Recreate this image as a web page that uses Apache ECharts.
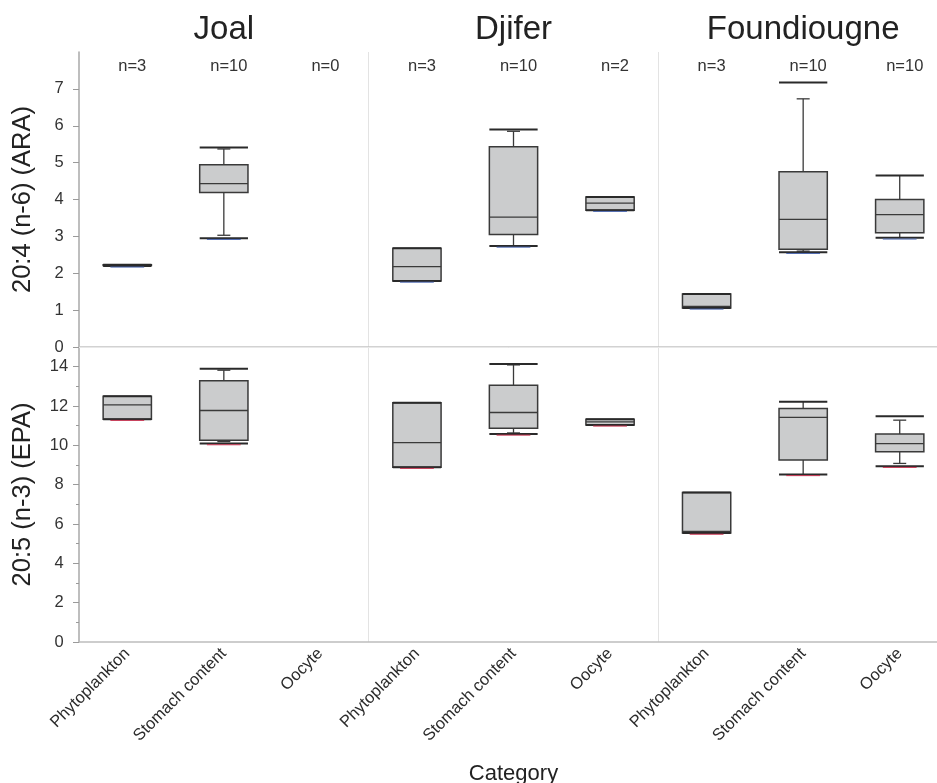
<!DOCTYPE html>
<html>
<head>
<meta charset="utf-8">
<title>ARA and EPA by site and category</title>
<script src="https://cdn.jsdelivr.net/npm/echarts@6/dist/echarts.min.js"></script>
<style>
  html, body { margin: 0; padding: 0; background: #fff; }
  #chart { width: 937px; height: 783px; }
</style>
</head>
<body>
<div id="chart"></div>
<script>
// Sites (panel columns) and sample categories
const sites = ['Joal', 'Djifer', 'Foundiougne'];
const categories = [
  'Phytoplankton', 'Stomach content', 'Oocyte',
  'Phytoplankton', 'Stomach content', 'Oocyte',
  'Phytoplankton', 'Stomach content', 'Oocyte'
];
const counts = [3, 10, 0, 3, 10, 2, 3, 10, 10];

// 20:4 (n-6) ARA summary per category
const araMin         = [2.20, 2.95, null, 1.79, 2.74, 3.71, 1.06, 2.57, 2.96];
const araWhiskerLow  = [2.20, 3.03, null, 1.79, 2.74, 3.71, 1.06, 2.60, 2.96];
const araQ1          = [2.21, 4.19, null, 1.79, 3.05, 3.71, 1.06, 2.65, 3.10];
const araMedian      = [2.22, 4.43, null, 2.18, 3.52, 3.90, 1.10, 3.46, 3.59];
const araQ3          = [2.23, 4.94, null, 2.68, 5.43, 4.07, 1.44, 4.75, 4.00];
const araWhiskerHigh = [2.23, 5.37, null, 2.68, 5.85, 4.07, 1.44, 6.73, 4.65];
const araMax         = [2.23, 5.41, null, 2.68, 5.90, 4.07, 1.44, 7.17, 4.65];

// 20:5 (n-3) EPA summary per category
const epaMin         = [11.33, 10.09, null, 8.89, 10.58, 11.04, 5.54, 8.52, 8.94];
const epaWhiskerLow  = [11.33, 10.19, null, 8.89, 10.63, 11.04, 5.54, 8.52, 9.08];
const epaQ1          = [11.33, 10.26, null, 8.89, 10.87, 11.04, 5.54, 9.25, 9.68];
const epaMedian      = [12.06, 11.77, null, 10.14, 11.67, 11.19, 5.62, 11.42, 10.09];
const epaQ3          = [12.50, 13.29, null, 12.16, 13.05, 11.33, 7.60, 11.87, 10.58];
const epaWhiskerHigh = [12.50, 13.82, null, 12.16, 14.09, 11.33, 7.60, 12.21, 11.28];
const epaMax         = [12.50, 13.90, null, 12.16, 14.14, 11.33, 7.60, 12.21, 11.48];

const FONT = '"Liberation Sans", Arial, Helvetica, sans-serif';
const GRID_LEFT = 79;
const GRID_WIDTH = 869;      // plot area runs slightly past the canvas edge
const TOP1 = 52, H1 = 295, TOP2 = 347, H2 = 295;

function buildRows(mn, wl, q1, med, q3, wh, mx) {
  return categories.map((c, i) => med[i] == null ? null :
    [i, mn[i], wl[i], q1[i], med[i], q3[i], wh[i], mx[i]]).filter(Boolean);
}

function boxRenderer(accent) {
  return function (params, api) {
    const i = api.value(0);
    const v = [1, 2, 3, 4, 5, 6, 7].map(k => api.value(k));
    const [mn, wl, q1, med, q3, wh, mx] = v;
    const y = val => api.coord([i, val])[1];
    const cx = api.coord([i, med])[0];
    const w = api.size([1, 0])[0] * 0.5;
    const x0 = cx - w / 2, x1 = cx + w / 2;
    const cap = 6.5;
    const stroke = '#3a3a3a';
    const line = (xa, ya, xb, yb, color, width) => ({
      type: 'line', shape: { x1: xa, y1: ya, x2: xb, y2: yb },
      style: { stroke: color, lineWidth: width }
    });
    const ch = [];
    if (wh > q3) ch.push(line(cx, y(q3), cx, y(wh), stroke, 1.3));
    if (wl < q1) ch.push(line(cx, y(q1), cx, y(wl), stroke, 1.3));
    ch.push({
      type: 'rect',
      shape: { x: x0, y: y(q3), width: w, height: Math.max(y(q1) - y(q3), 0.8) },
      style: { fill: '#cbcccd', stroke: stroke, lineWidth: 1.5 }
    });
    ch.push(line(x0, y(med), x1, y(med), stroke, 1.3));
    if (wh > q3 && wh < mx) ch.push(line(cx - cap, y(wh), cx + cap, y(wh), stroke, 1.3));
    if (wl < q1 && wl > mn) ch.push(line(cx - cap, y(wl), cx + cap, y(wl), stroke, 1.3));
    ch.push(line(x0, y(mx), x1, y(mx), '#2a2a2a', 2));
    ch.push(line(x0, y(mn), x1, y(mn), '#2a2a2a', 2));
    ch.push(line(x0 + w * 0.15, y(mn) + 1.2, x1 - w * 0.15, y(mn) + 1.2, accent, 1));
    return { type: 'group', children: ch };
  };
}

const splitEvery3 = {
  show: true,
  interval: (idx) => idx === 3 || idx === 6,
  lineStyle: { color: '#e3e3e3', width: 1 }
};

const groupW = GRID_WIDTH / sites.length;

const option = {
  animation: false,
  backgroundColor: '#ffffff',
  textStyle: { fontFamily: FONT },
  graphic: sites.map((s, k) => ({
    type: 'text',
    x: GRID_LEFT + (k + 0.5) * groupW,
    y: 30,
    style: {
      text: s, fill: '#222', fontSize: 33, fontFamily: FONT,
      textAlign: 'center', textVerticalAlign: 'middle'
    }
  })),
  grid: [
    { left: GRID_LEFT, width: GRID_WIDTH, top: TOP1, height: H1, outerBoundsMode: 'none', containLabel: false },
    { left: GRID_LEFT, width: GRID_WIDTH, top: TOP2, height: H2, outerBoundsMode: 'none', containLabel: false }
  ],
  xAxis: [
    {
      type: 'category', gridIndex: 0, data: categories, position: 'top',
      axisLine: { show: true, lineStyle: { color: '#c4c4c4', width: 1.5 } },
      axisTick: { show: false }, axisLabel: { show: false },
      splitLine: splitEvery3
    },
    {
      type: 'category', gridIndex: 1, data: categories, position: 'bottom',
      axisLine: { show: true, lineStyle: { color: '#bdbdbd', width: 1.5 } },
      axisTick: { show: false },
      axisLabel: {
        rotate: 45, margin: 9, fontSize: 16.5, color: '#2b2b2b', fontFamily: FONT,
        interval: 0
      },
      splitLine: splitEvery3,
      name: 'Category', nameLocation: 'middle', nameGap: 121,
      nameTextStyle: { fontSize: 22, color: '#222', fontFamily: FONT }
    },
    {
      type: 'category', gridIndex: 1, data: categories, position: 'top',
      axisLine: { show: true, lineStyle: { color: '#e8e8e8', width: 1 } },
      axisTick: { show: false }, axisLabel: { show: false }, splitLine: { show: false }
    }
  ],
  yAxis: [
    {
      type: 'value', gridIndex: 0, min: 0, max: 8, interval: 1,
      axisLine: { show: true, lineStyle: { color: '#a8a8a8', width: 1.5 } },
      axisTick: { show: true, length: 6, lineStyle: { color: '#9a9a9a' } },
      axisLabel: {
        showMaxLabel: false, align: 'center', margin: 20,
        fontSize: 16.5, color: '#333', fontFamily: FONT
      },
      splitLine: { show: false },
      name: '20:4 (n-6) (ARA)', nameLocation: 'middle', nameGap: 43,
      nameTextStyle: { fontSize: 25.5, color: '#222', fontFamily: FONT }
    },
    {
      type: 'value', gridIndex: 1, min: 0, max: 15, interval: 2,
      axisLine: { show: true, lineStyle: { color: '#a8a8a8', width: 1.5 } },
      axisTick: { show: true, length: 6, lineStyle: { color: '#9a9a9a' } },
      minorTick: { show: true, splitNumber: 2, length: 3, lineStyle: { color: '#9a9a9a' } },
      axisLabel: {
        showMaxLabel: false, align: 'center', margin: 20,
        fontSize: 16.5, color: '#333', fontFamily: FONT
      },
      splitLine: { show: false },
      name: '20:5 (n-3) (EPA)', nameLocation: 'middle', nameGap: 43,
      nameTextStyle: { fontSize: 25.5, color: '#222', fontFamily: FONT }
    }
  ],
  series: [
    {
      type: 'custom', name: 'ARA', xAxisIndex: 0, yAxisIndex: 0,
      data: buildRows(araMin, araWhiskerLow, araQ1, araMedian, araQ3, araWhiskerHigh, araMax),
      encode: { x: 0, y: [1, 2, 3, 4, 5, 6, 7] },
      renderItem: boxRenderer('#4a66b0'),
      silent: true
    },
    {
      type: 'custom', name: 'EPA', xAxisIndex: 1, yAxisIndex: 1,
      data: buildRows(epaMin, epaWhiskerLow, epaQ1, epaMedian, epaQ3, epaWhiskerHigh, epaMax),
      encode: { x: 0, y: [1, 2, 3, 4, 5, 6, 7] },
      renderItem: boxRenderer('#c8324f'),
      silent: true
    },
    {
      type: 'custom', name: 'n', xAxisIndex: 0, yAxisIndex: 0,
      data: counts.map((n, i) => [i, n]),
      encode: { x: 0 },
      renderItem: function (params, api) {
        const i = api.value(0);
        const cx = api.coord([i, 0])[0];
        return {
          type: 'text',
          x: cx + 5, y: params.coordSys.y + 14,
          style: {
            text: 'n=' + api.value(1), fill: '#333', fontSize: 16.5, fontFamily: FONT,
            textAlign: 'center', textVerticalAlign: 'middle'
          }
        };
      },
      silent: true
    }
  ]
};

const chart = echarts.init(document.getElementById('chart'), null, { renderer: 'canvas' });
chart.setOption(option);
</script>
</body>
</html>
